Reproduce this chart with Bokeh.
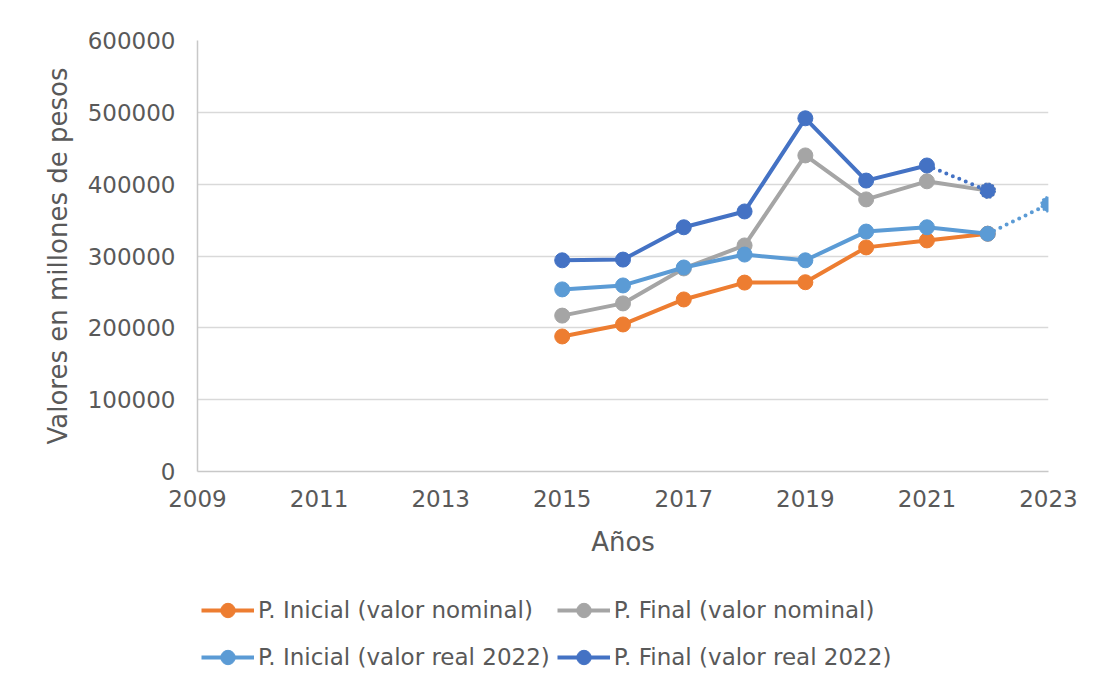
from bokeh.plotting import figure
from bokeh.layouts import column
from bokeh.models import (Legend, LegendItem, FixedTicker, NumeralTickFormatter,
                          Range1d)
from bokeh.embed import file_html
from bokeh.resources import INLINE

# ---- data ----
years = [2015, 2016, 2017, 2018, 2019, 2020, 2021, 2022]
inicial_nominal = [188000, 204700, 239500, 263000, 263500, 312000, 321700, 331000]
final_nominal = [217000, 234000, 282700, 314700, 440000, 378800, 404000, 391000]
inicial_real = [253500, 259000, 284000, 302000, 294000, 334000, 340000, 331000]
final_real = [294000, 295000, 340000, 362000, 491700, 405000, 426000, 391000]
# projected (dotted) segments
inicial_real_proj_years = [2022, 2023]
inicial_real_proj = [331000, 372000]
final_real_proj_years = [2021, 2022]
final_real_proj = [426000, 391000]

x_ticks = [2009, 2011, 2013, 2015, 2017, 2019, 2021, 2023]
y_ticks = [0, 100000, 200000, 300000, 400000, 500000, 600000]

names = ["P. Inicial (valor nominal)", "P. Final (valor nominal)",
         "P. Inicial (valor real 2022)", "P. Final (valor real 2022)"]
colors = ["#ED7D31", "#A5A5A5", "#5B9BD5", "#4472C4"]

FONT = "DejaVu Sans"
TXT = "#595959"

fig = figure(frame_width=851, frame_height=431, output_backend="svg",
             toolbar_location=None,
             x_range=Range1d(2009, 2023), y_range=Range1d(0, 600000),
             min_border_left=197, min_border_right=46, min_border_top=40,
             min_border_bottom=110)
fig.outline_line_color = None

fig.xgrid.grid_line_color = None
fig.ygrid.grid_line_color = "#d9d9d9"
fig.ygrid.grid_line_width = 1.5
fig.ygrid.ticker = FixedTicker(ticks=y_ticks)

for ax in (fig.xaxis[0], fig.yaxis[0]):
    ax.axis_line_color = "#c8c8c8"
    ax.axis_line_width = 1.5
    ax.major_tick_line_color = None
    ax.minor_tick_line_color = None
    ax.major_tick_out = 0
    ax.major_tick_in = 0
    ax.major_label_text_font = FONT
    ax.major_label_text_font_size = "23px"
    ax.major_label_text_color = TXT
    ax.axis_label_text_font = FONT
    ax.axis_label_text_font_size = "26px"
    ax.axis_label_text_color = TXT
    ax.axis_label_text_font_style = "normal"

fig.xaxis.ticker = FixedTicker(ticks=x_ticks)
fig.yaxis.ticker = FixedTicker(ticks=y_ticks)
fig.yaxis.formatter = NumeralTickFormatter(format="0")
fig.xaxis.formatter = NumeralTickFormatter(format="0")
fig.xaxis.axis_label = "Años"
fig.yaxis.axis_label = "Valores en millones de pesos"
fig.xaxis.major_label_standoff = 18
fig.xaxis.axis_label_standoff = 17
fig.yaxis.major_label_standoff = 22
fig.yaxis.axis_label_standoff = 12

LW = 4
MS = 15
series = [inicial_nominal, final_nominal, inicial_real, final_real]
for i, (name, col, vals) in enumerate(zip(names, colors, series)):
    xs, ys = years, vals
    if i == 3:  # last point of final real is projected
        xs, ys = years[:-1], vals[:-1]
    if i == 2:
        fig.line(inicial_real_proj_years, inicial_real_proj, line_color=col,
                 line_width=LW, line_dash="0 7", line_cap="round")
    if i == 3:
        fig.line(final_real_proj_years, final_real_proj, line_color=col,
                 line_width=LW, line_dash="0 7", line_cap="round")
    fig.line(xs, ys, line_color=col, line_width=LW)
    fig.scatter(xs, ys, size=MS, fill_color=col, line_color=col)
    if i == 2:
        fig.scatter(inicial_real_proj_years[1:], inicial_real_proj[1:], size=MS,
                    fill_color=col, line_color=col, line_dash="2 2", line_width=1.5)
    if i == 3:
        fig.scatter(final_real_proj_years[1:], final_real_proj[1:], size=MS,
                    fill_color=col, line_color=col, line_dash="2 2", line_width=1.5)

# ---- legend strip below the chart (its frame is aligned with the chart frame) ----
leg = figure(width=1094, height=104, output_backend="svg", toolbar_location=None,
             x_range=Range1d(0, 1), y_range=Range1d(0, 1),
             x_axis_location=None, y_axis_location=None,
             min_border_left=197, min_border_right=46,
             min_border_top=0, min_border_bottom=0)
leg.outline_line_color = None
leg.xgrid.grid_line_color = None
leg.ygrid.grid_line_color = None

items = []
for name, col, vals in zip(names, colors, series):
    # same series, outside this strip's visible range: only the legend glyph shows
    ln = leg.line(years, vals, line_color=col, line_width=LW)
    sc = leg.scatter(years, vals, size=MS, fill_color=col, line_color=col)
    items.append(LegendItem(label=name, renderers=[ln, sc]))

legend = Legend(items=items, orientation="horizontal", ncols=2,
                location=(4, 8),
                glyph_width=53, glyph_height=36, label_height=40,
                label_standoff=4, spacing=7, padding=4, margin=0,
                label_text_font=FONT, label_text_font_size="23px",
                label_text_color=TXT, border_line_color=None,
                background_fill_alpha=0)
leg.add_layout(legend)

p = column(fig, leg, spacing=0)

open("out.html", "w").write(file_html(p, INLINE))
